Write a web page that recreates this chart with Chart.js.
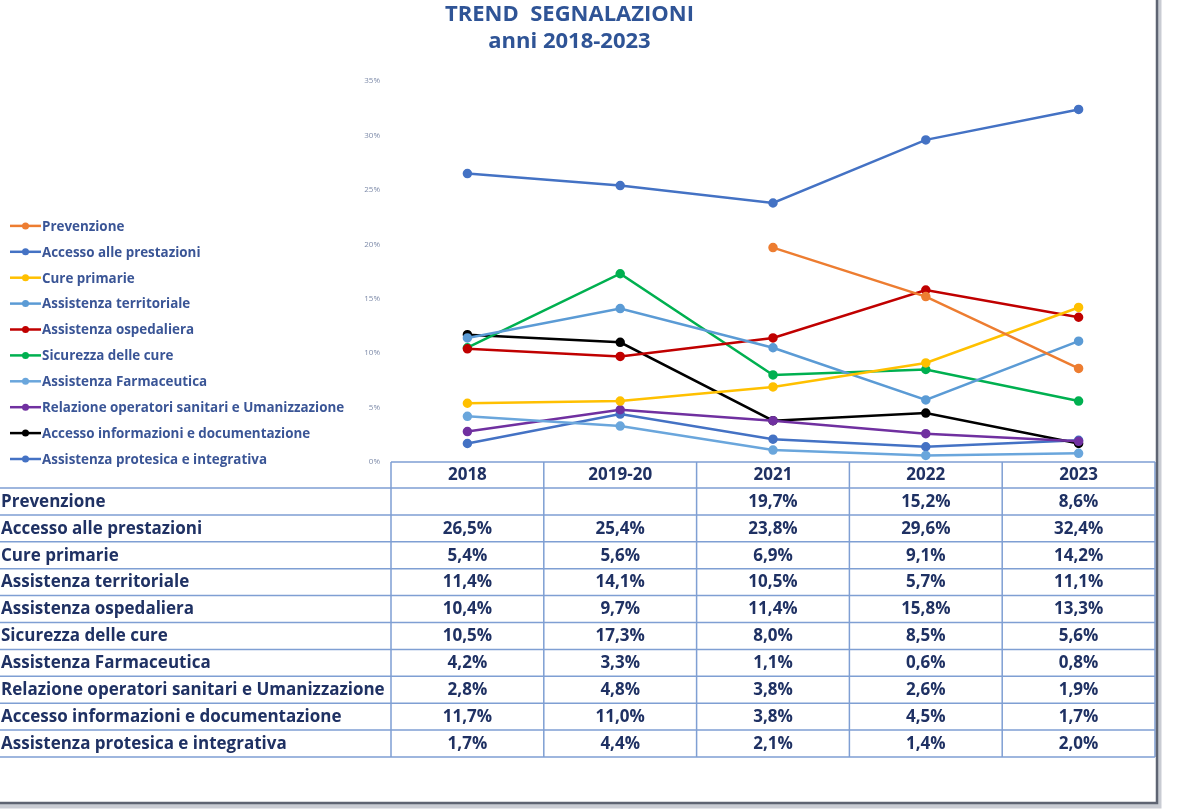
<!DOCTYPE html>
<html>
<head>
<meta charset="utf-8">
<script src="https://cdn.jsdelivr.net/npm/chart.js@4/dist/chart.umd.min.js"></script>
<style>
  html, body { margin: 0; padding: 0; background: #fff; }
  canvas { display: block; }
</style>
</head>
<body>
<canvas id="chart-1" width="1182" height="812"></canvas>
<script>
const years = ["2018", "2019-20", "2021", "2022", "2023"];
const yTicks = [0, 5, 10, 15, 20, 25, 30, 35];

const prevenzione = [null, null, 19.7, 15.2, 8.6];
const accessoPrestazioni = [26.5, 25.4, 23.8, 29.6, 32.4];
const curePrimarie = [5.4, 5.6, 6.9, 9.1, 14.2];
const assTerritoriale = [11.4, 14.1, 10.5, 5.7, 11.1];
const assOspedaliera = [10.4, 9.7, 11.4, 15.8, 13.3];
const sicurezzaCure = [10.5, 17.3, 8.0, 8.5, 5.6];
const assFarmaceutica = [4.2, 3.3, 1.1, 0.6, 0.8];
const relazioneOperatori = [2.8, 4.8, 3.8, 2.6, 1.9];
const accessoInformazioni = [11.7, 11.0, 3.8, 4.5, 1.7];
const assProtesica = [1.7, 4.4, 2.1, 1.4, 2.0];

const series = [
  ["Prevenzione", prevenzione, "#ED7D31"],
  ["Accesso alle prestazioni", accessoPrestazioni, "#4472C4"],
  ["Cure primarie", curePrimarie, "#FFC000"],
  ["Assistenza territoriale", assTerritoriale, "#5B9BD5"],
  ["Assistenza ospedaliera", assOspedaliera, "#C00000"],
  ["Sicurezza delle cure", sicurezzaCure, "#00B050"],
  ["Assistenza Farmaceutica", assFarmaceutica, "#6AA6DC"],
  ["Relazione operatori sanitari e Umanizzazione", relazioneOperatori, "#7030A0"],
  ["Accesso informazioni e documentazione", accessoInformazioni, "#000000"],
  ["Assistenza protesica e integrativa", assProtesica, "#4472C4"],
];

const FONT = "'Open Sans', 'Noto Sans', sans-serif";
const NAVY = "#1F3163";
const GRID = "#7F9FD3";

function fmt(v) {
  return v === null ? "" : v.toFixed(1).replace(".", ",") + "%";
}

// legend drawn by hand: line with a dot, like the spreadsheet one
const sideLegend = {
  id: "sideLegend",
  afterDraw(chart) {
    const ctx = chart.ctx;
    const sets = chart.data.datasets;
    const step = 25.9;
    const y0 = chart.chartArea.bottom - 3 - step * (sets.length - 1);
    ctx.save();
    ctx.font = "bold 13.4px " + FONT;
    ctx.textBaseline = "middle";
    sets.forEach((ds, i) => {
      const y = y0 + i * step;
      ctx.strokeStyle = ds.borderColor;
      ctx.lineWidth = 2.5;
      ctx.beginPath();
      ctx.moveTo(10, y);
      ctx.lineTo(41, y);
      ctx.stroke();
      ctx.fillStyle = ds.borderColor;
      ctx.beginPath();
      ctx.arc(25.5, y, 3.5, 0, Math.PI * 2);
      ctx.fill();
      ctx.fillStyle = "#3A5596";
      ctx.fillText(ds.label, 42, y + 1);
    });
    ctx.restore();
  },
};

// data table under the plot, columns follow the category scale
const dataTable = {
  id: "dataTable",
  afterDraw(chart) {
    const ctx = chart.ctx;
    const area = chart.chartArea;
    const xs = chart.scales.x;
    const sets = chart.data.datasets;
    const colW = (area.right - area.left) / years.length;
    const rowH = 26.9;
    const top = area.bottom;
    const bodyTop = top + 26;
    const bottom = bodyTop + rowH * sets.length;

    ctx.save();
    ctx.strokeStyle = GRID;
    ctx.lineWidth = 1.5;
    ctx.beginPath();
    ctx.moveTo(area.left, top);
    ctx.lineTo(area.right, top);
    for (let r = 0; r <= sets.length; r++) {
      const y = bodyTop + r * rowH;
      ctx.moveTo(0, y);
      ctx.lineTo(area.right, y);
    }
    for (let c = 0; c <= years.length; c++) {
      const x = area.left + c * colW;
      ctx.moveTo(x, top);
      ctx.lineTo(x, bottom);
    }
    ctx.stroke();

    ctx.fillStyle = NAVY;
    ctx.font = "bold 17px " + FONT;
    ctx.textBaseline = "middle";
    sets.forEach((ds, r) => {
      const y = bodyTop + r * rowH + rowH / 2 + 0.5;
      ctx.textAlign = "left";
      ctx.fillText(ds.label, 1, y);
      ctx.textAlign = "center";
      ds.data.forEach((v, c) => {
        ctx.fillText(fmt(v), xs.getPixelForValue(c), y);
      });
    });

    // page frame on the right and bottom
    ctx.strokeStyle = "#C9CCD3";
    ctx.lineWidth = 5;
    ctx.beginPath();
    ctx.moveTo(1159, 0);
    ctx.lineTo(1159, 806);
    ctx.lineTo(0, 806);
    ctx.stroke();
    ctx.strokeStyle = "#5E6472";
    ctx.lineWidth = 2.5;
    ctx.beginPath();
    ctx.moveTo(1157, 0);
    ctx.lineTo(1157, 803);
    ctx.lineTo(0, 803);
    ctx.stroke();
    ctx.restore();
  },
};

const data = {
  labels: years,
  datasets: series.map(([label, values, color]) => ({
    label: label,
    data: values,
    borderColor: color,
    backgroundColor: color,
    borderWidth: 2.5,
    pointRadius: 3.5,
    pointHoverRadius: 4,
    tension: 0,
  })),
};

const config = {
  type: "line",
  data: data,
  options: {
    responsive: false,
    animation: false,
    layout: {
      // negative left padding only to centre the title like the original
      padding: { left: -16, right: 27, top: 0, bottom: 324 },
    },
    scales: {
      x: {
        offset: true,
        grid: { display: false, drawTicks: false },
        border: { display: false },
        ticks: {
          padding: 3,
          color: NAVY,
          font: { family: FONT, size: 17, weight: "bold" },
        },
        afterFit: (scale) => {
          scale.height = 26;
        },
      },
      y: {
        min: 0,
        max: 35,
        afterBuildTicks: (scale) => {
          scale.ticks = yTicks.map((v) => ({ value: v }));
        },
        grid: { display: false, drawTicks: false },
        border: { display: false },
        ticks: {
          padding: 11,
          color: "#7F8CAA",
          font: { family: FONT, size: 8 },
          callback: (v) => v + "%",
        },
        afterFit: (scale) => {
          scale.width = 407;
        },
      },
    },
    plugins: {
      legend: { display: false },
      tooltip: { enabled: false },
      title: {
        display: true,
        text: ["TREND  SEGNALAZIONI", "anni 2018-2023"],
        color: "#2F5496",
        font: { family: FONT, size: 22, weight: "bold", lineHeight: 1.23 },
        padding: { top: 1, bottom: 26 },
      },
    },
  },
  plugins: [sideLegend, dataTable],
};

const chart1 = new Chart(document.getElementById("chart-1"), config);
</script>
</body>
</html>
